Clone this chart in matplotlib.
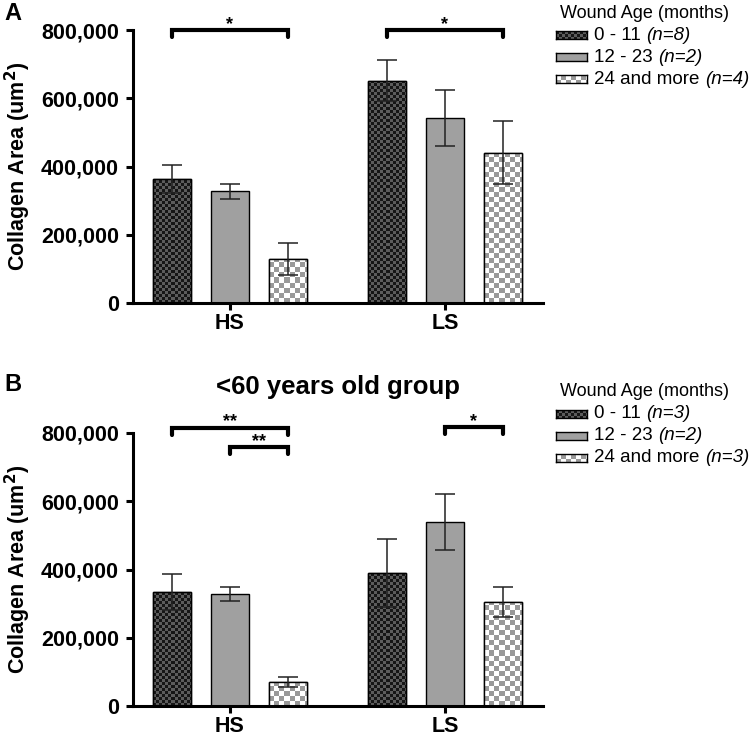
import numpy as np
import matplotlib
matplotlib.use("Agg")
import matplotlib.pyplot as plt

plt.rcParams["font.family"] = ["Liberation Sans", "DejaVu Sans"]

groups = ["HS", "LS"]
age_labels = ["0 - 11", "12 - 23", "24 and more"]

# panel A: all ages
a_n = ["(n=8)", "(n=2)", "(n=4)"]
a_mean = {"HS": [363000, 328000, 129000], "LS": [651000, 542000, 440000]}
a_sem = {"HS": [41000, 22000, 47000], "LS": [60000, 82000, 92000]}

# panel B: <60 years old
b_n = ["(n=3)", "(n=2)", "(n=3)"]
b_mean = {"HS": [334000, 328000, 70000], "LS": [390000, 539000, 305000]}
b_sem = {"HS": [52000, 21000, 15000], "LS": [99000, 82000, 45000]}

# significance brackets: (group, bar_from, bar_to, y, stars)
a_sig = [("HS", 0, 2, 800000, "*"), ("LS", 0, 2, 800000, "*")]
b_sig = [("HS", 0, 2, 815000, "**"), ("HS", 1, 2, 759000, "**"),
         ("LS", 1, 2, 817000, "*")]

W, H = 755, 737
fig = plt.figure(figsize=(W / 100, H / 100), dpi=100)

offsets = [-0.27, 0.0, 0.27]
width = 0.177


def checker(nx, ny, cell, c1, c2):
    yy, xx = np.mgrid[0:ny, 0:nx]
    m = ((xx // cell + yy // cell) % 2).astype(bool)
    arr = np.empty((ny, nx, 3))
    arr[:] = c1
    arr[m] = c2
    return arr


def rgb(h):
    return np.array(matplotlib.colors.to_rgb(h))


patterns = [
    lambda nx, ny: checker(nx, ny, 3, rgb("#161616"), rgb("#5c5c5c")),
    None,
    lambda nx, ny: checker(nx, ny, 5, rgb("#ffffff"), rgb("#999999")),
]
solid = ["#3a3a3a", "#a0a0a0", "#cfcfcf"]


def panel(ax, means, sems, sig):
    ax.set_xlim(-0.451, 1.456)
    ax.set_ylim(0, 800000)
    bars_all = []
    for k in range(3):
        xs = [gi + offsets[k] for gi in range(len(groups))]
        vals = [means[g][k] for g in groups]
        errs = [sems[g][k] for g in groups]
        bars = ax.bar(xs, vals, width, color=solid[k], edgecolor="black",
                      linewidth=1.0, zorder=2)
        bars_all.append(bars)
        ax.errorbar(xs, vals, yerr=errs, fmt="none", ecolor="#222222",
                    elinewidth=1.1, capsize=7, capthick=1.1, zorder=4)
    # checker fill, clipped to each bar
    for k in range(3):
        if patterns[k] is None:
            continue
        for b in bars_all[k]:
            ext = b.get_window_extent()
            nx = max(int(round(ext.width)), 1)
            ny = max(int(round(ext.height)), 1)
            x0, y0 = b.get_x(), b.get_y()
            im = ax.imshow(patterns[k](nx, ny),
                           extent=(x0, x0 + b.get_width(), y0 + b.get_height(), y0),
                           origin="upper", interpolation="nearest", aspect="auto",
                           zorder=2.5)
            im.set_clip_path(b)
            ax.add_patch(plt.Rectangle((x0, y0), b.get_width(), b.get_height(),
                                       fill=False, edgecolor="black", lw=1.0, zorder=3))
    ax.set_xlim(-0.451, 1.456)
    ax.set_ylim(0, 800000)

    for g, i, j, y, stars in sig:
        gi = groups.index(g)
        x1, x2 = gi + offsets[i], gi + offsets[j]
        ax.plot([x1, x1, x2, x2], [y - 20000, y, y, y - 20000], color="black",
                lw=3, solid_capstyle="round", solid_joinstyle="miter",
                clip_on=False, zorder=5)
        ax.annotate(stars, xy=((x1 + x2) / 2, y), xytext=(0, 1),
                    textcoords="offset points", ha="center", va="baseline",
                    fontsize=13, fontweight="bold", annotation_clip=False)

    for s in ["top", "right"]:
        ax.spines[s].set_visible(False)
    for s in ["left", "bottom"]:
        ax.spines[s].set_linewidth(2.2)
    ax.set_yticks([0, 200000, 400000, 600000, 800000])
    ax.set_yticklabels(["0", "200,000", "400,000", "600,000", "800,000"])
    ax.set_xticks(range(len(groups)))
    ax.set_xticklabels(groups)
    ax.tick_params(axis="both", width=2.2, length=5, labelsize=15.5)
    ax.tick_params(axis="y", pad=5)
    ax.tick_params(axis="x", pad=2)
    for t in ax.get_xticklabels() + ax.get_yticklabels():
        t.set_fontweight("bold")
    ax.set_ylabel("Collagen Area (um$^\\mathbf{2}$)", fontsize=15.5, fontweight="bold",
                  labelpad=6)


def legend(top, n_labels):
    fig.text(560 / W, 1 - top / H, "Wound Age (months)", fontsize=13,
             ha="left", va="center")
    for k in range(3):
        yc = top + 22 + 22 * k
        sw = fig.add_axes([556 / W, 1 - (yc + 4) / H, 31 / W, 8 / H])
        if patterns[k] is None:
            sw.imshow(np.ones((8, 31, 3)) * rgb(solid[k]), interpolation="nearest",
                      aspect="auto")
        else:
            sw.imshow(patterns[k](31, 8), interpolation="nearest", aspect="auto")
        sw.set_xticks([])
        sw.set_yticks([])
        for s in sw.spines.values():
            s.set_linewidth(1.0)
        t = fig.text(594 / W, 1 - yc / H, age_labels[k] + " ", fontsize=13.5,
                     ha="left", va="center")
        fig.add_artist(matplotlib.text.Annotation(
            n_labels[k], xy=(1, 0.5), xycoords=t, va="center", ha="left",
            fontsize=13.5, style="italic"))


axA = fig.add_axes([133 / W, 1 - 303 / H, 410 / W, 273 / H])
panel(axA, a_mean, a_sem, a_sig)
axB = fig.add_axes([133 / W, 1 - 706 / H, 410 / W, 273 / H])
panel(axB, b_mean, b_sem, b_sig)
axB.set_title("<60 years old group", fontsize=18.5, fontweight="bold", pad=28)

fig.text(4 / W, 1 - 13 / H, "A", fontsize=17, fontweight="bold", va="center")
fig.text(4 / W, 1 - 385 / H, "B", fontsize=17, fontweight="bold", va="center")

legend(13, a_n)
legend(392, b_n)

fig.savefig("out.png", dpi=100)
